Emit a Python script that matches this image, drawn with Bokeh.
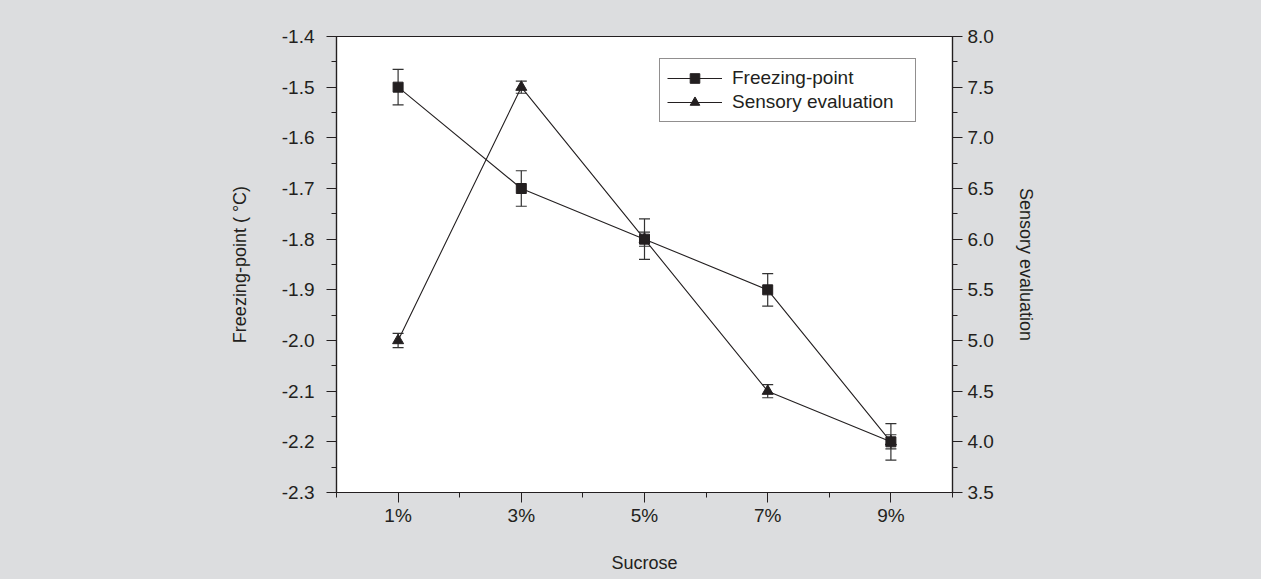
from bokeh.plotting import figure
from bokeh.models import (Range1d, LinearAxis, FixedTicker, ColumnDataSource, Whisker,
                          TeeHead, Legend, LegendItem)
from bokeh.embed import file_html
from bokeh.resources import INLINE

# ---- data ----
categories = ["1%", "3%", "5%", "7%", "9%"]
freezing = [-1.5, -1.7, -1.8, -1.9, -2.2]
freezing_err = [0.035, 0.035, 0.04, 0.032, 0.036]
sensory = [5.0, 7.5, 6.0, 4.5, 4.0]
sensory_err = [0.07, 0.06, 0.07, 0.065, 0.07]

left_ticks = [-2.3, -2.2, -2.1, -2.0, -1.9, -1.8, -1.7, -1.6, -1.5, -1.4]
right_ticks = [3.5, 4.0, 4.5, 5.0, 5.5, 6.0, 6.5, 7.0, 7.5, 8.0]

BG = "#dcdddf"
INK = "#231f20"
FONT = "Liberation Sans"

x = list(range(1, len(categories) + 1))

p = figure(width=1261, height=579, output_backend="svg", toolbar_location=None,
           x_range=Range1d(0.5, len(categories) + 0.5),
           y_range=Range1d(left_ticks[0], left_ticks[-1]))
p.min_border_left = 336
p.min_border_right = 309
p.min_border_top = 36
p.min_border_bottom = 87
p.background_fill_color = "white"
p.border_fill_color = BG
p.outline_line_color = INK
p.outline_line_width = 1.2
p.grid.visible = False
p.extra_y_ranges = {"sens": Range1d(right_ticks[0], right_ticks[-1])}

def style_axis(ax):
    ax.axis_line_color = INK
    ax.axis_line_width = 1.2
    ax.major_tick_line_color = INK
    ax.minor_tick_line_color = INK
    ax.major_tick_out = 10
    ax.major_tick_in = 0
    ax.minor_tick_out = 5
    ax.minor_tick_in = 0
    ax.major_label_text_font = FONT
    ax.major_label_text_font_size = "19px"
    ax.major_label_text_color = INK
    ax.axis_label_text_font = FONT
    ax.axis_label_text_font_size = "18px"
    ax.axis_label_text_font_style = "normal"
    ax.axis_label_text_color = INK

# x axis
xa = p.xaxis[0]
xa.ticker = FixedTicker(ticks=x, minor_ticks=[v - 0.5 for v in x] + [x[-1] + 0.5])
xa.major_label_overrides = {v: c for v, c in zip(x, categories)}
xa.axis_label = "Sucrose"
style_axis(xa)
xa.major_label_standoff = 2
xa.axis_label_standoff = 24

# left axis
ya = p.yaxis[0]
ya.ticker = FixedTicker(ticks=left_ticks,
                        minor_ticks=[round(t + 0.05, 3) for t in left_ticks[:-1]])
ya.major_label_overrides = {t: f"{t:.1f}" for t in left_ticks}
ya.axis_label = "Freezing-point ( °C)"
style_axis(ya)
ya.major_label_standoff = 12
ya.axis_label_standoff = 29

# right axis
ra = LinearAxis(y_range_name="sens", axis_label="Sensory evaluation")
ra.ticker = FixedTicker(ticks=right_ticks,
                        minor_ticks=[t + 0.25 for t in right_ticks[:-1]])
ra.major_label_overrides = {t: f"{t:.1f}" for t in right_ticks}
style_axis(ra)
ra.major_label_standoff = 5
ra.axis_label_standoff = 19
p.add_layout(ra, "right")

# data
l1 = p.line(x, freezing, line_color=INK, line_width=1.1)
s1 = p.scatter(x, freezing, marker="square", size=10, fill_color=INK, line_color=INK)
l2 = p.line(x, sensory, line_color=INK, line_width=1.1, y_range_name="sens")
s2 = p.scatter(x, sensory, marker="triangle", size=11, fill_color=INK, line_color=INK,
               y_range_name="sens")

src1 = ColumnDataSource(dict(x=x,
                             up=[v + e for v, e in zip(freezing, freezing_err)],
                             lo=[v - e for v, e in zip(freezing, freezing_err)]))
src2 = ColumnDataSource(dict(x=x,
                             up=[v + e for v, e in zip(sensory, sensory_err)],
                             lo=[v - e for v, e in zip(sensory, sensory_err)]))
for src, rng in ((src1, "default"), (src2, "sens")):
    w = Whisker(base="x", upper="up", lower="lo", source=src, y_range_name=rng,
                line_color="#333333", line_width=1.2,
                upper_head=TeeHead(size=11, line_color="#333333", line_width=1.2),
                lower_head=TeeHead(size=11, line_color="#333333", line_width=1.2))
    p.add_layout(w)

legend = Legend(items=[LegendItem(label="Freezing-point", renderers=[l1, s1]),
                       LegendItem(label="Sensory evaluation", renderers=[l2, s2])],
                location=(323, 370))
legend.border_line_color = INK
legend.border_line_width = 1
legend.background_fill_color = "white"
legend.background_fill_alpha = 1
legend.label_text_font = FONT
legend.label_text_font_size = "19px"
legend.label_text_color = INK
legend.glyph_width = 55
legend.glyph_height = 24
legend.label_height = 24
legend.label_width = 176
legend.label_standoff = 10
legend.padding = 7
legend.spacing = 0
legend.margin = 0
p.add_layout(legend, "center")

html = file_html(p, INLINE)
html = html.replace("<head>",
                    "<head><style>html,body{margin:0;padding:0;background:%s;}</style>" % BG, 1)
open("out.html", "w").write(html)
